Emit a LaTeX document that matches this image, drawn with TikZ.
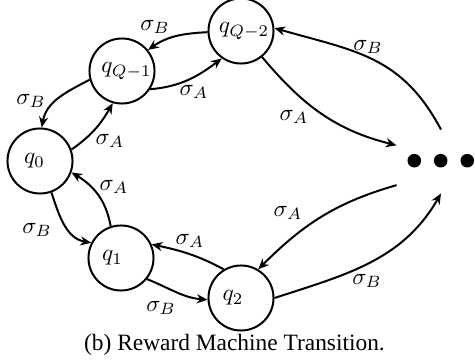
\documentclass[tikz,border=0pt]{standalone}
\usepackage{fontspec}
\newfontfamily\capfont{Liberation Serif}
\usetikzlibrary{arrows.meta}
\begin{document}
\begin{tikzpicture}[x=0.4274pt,y=-0.4274pt,
  state/.style={circle,draw,line width=0.85pt,minimum size=27.8pt,inner sep=0pt},
  name text/.style 2 args={label={[inner sep=0pt,xshift=#1*0.4274pt]center:#2}},
  hub/.style={rectangle,minimum width=37.6pt,minimum height=26.9pt,inner sep=0pt},
  tr/.style={line width=0.85pt,-{Stealth[length=4.6pt,width=3.9pt,inset=1.5pt]}},
  lab/.style={inner sep=0pt},
  dot/.style={fill=black}]
\useasboundingbox (0,0) rectangle (475,362);

\node[state,name text={-5.5}{$q_0$}]     (q0)  at (40,161)  {};
\node[state,name text={4.5}{$q_{Q-1}$}]  (qQ1) at (122,71)  {};
\node[state,name text={3}{$q_{Q-2}$}]    (qQ2) at (241,31)  {};
\node[state,name text={-8.5}{$q_1$}]     (q1)  at (121,258) {};
\node[state,name text={-8}{$q_2$}]       (q2)  at (241,298) {};
\node[hub]   (dots) at (441,161.5) {};
\fill[dot] (414.3,160.7) circle (6.8);
\fill[dot] (440.7,160.7) circle (6.8);
\fill[dot] (467.3,160.7) circle (6.8);

\draw[tr] (qQ2.182) to[out=183,in=35] (qQ1.39) node[lab] at (155,27) {$\sigma_B$};
\draw[tr] (qQ1.327) to[out=5,in=217] (qQ2.235) node[lab] at (194,92) {$\sigma_A$};
\draw[tr] (qQ1.195) to[out=208,in=80] (q0.87) node[lab] at (31,101) {$\sigma_B$};
\draw[tr] (q0.20) to[out=35,in=240] (qQ1.254) node[lab] at (110,141) {$\sigma_A$};
\draw[tr] (q1.108) to[out=100,in=329] (q0.340) node[lab] at (114,187) {$\sigma_A$};
\draw[tr] (q0.290) to[out=288,in=170] (q1.153) node[lab] at (37,230) {$\sigma_B$};
\draw[tr] (q2.121) to[out=152,in=348] (q1.24) node[lab] at (190,241) {$\sigma_A$};
\draw[tr] (q1.321) to[out=338,in=175] (q2.183) node[lab] at (161,308) {$\sigma_B$};
\draw[tr] (qQ2.309) to[out=310,in=166] (dots.160) node[lab] at (294,117) {$\sigma_A$};
\draw[tr] (dots.north) to[out=118,in=344,looseness=1.1] (qQ2.5) node[lab] at (368,47) {$\sigma_B$};
\draw[tr] (dots.208.6) to[out=196,in=45] (q2.59) node[lab] at (288,213) {$\sigma_A$};
\draw[tr] (q2.0) to[out=18,in=240] (dots.south) node[lab] at (367,281) {$\sigma_B$};

\node[anchor=base,inner sep=0pt,font=\capfont\fontsize{10}{12}\selectfont] (cap) at (234.5,351) {(b) Reward Machine Transition.};
\end{tikzpicture}
\end{document}
